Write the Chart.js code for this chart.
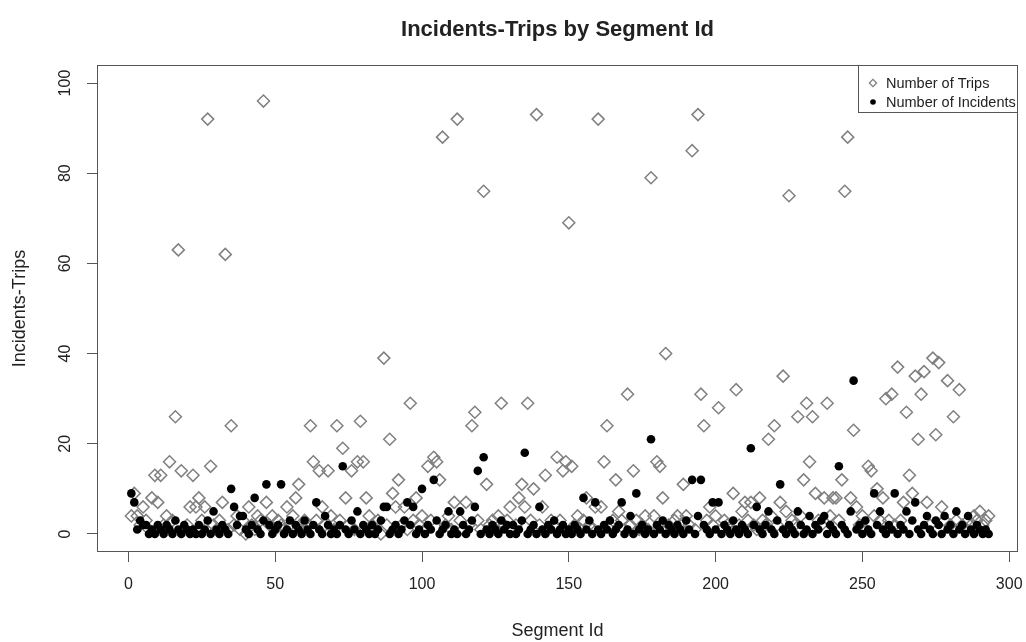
<!DOCTYPE html>
<html>
<head>
<meta charset="utf-8">
<script src="https://cdn.jsdelivr.net/npm/chart.js@4/dist/chart.umd.min.js"></script>
<style>
html,body{margin:0;padding:0;background:#fff;}
#wrap{width:1026px;height:642px;}
</style>
</head>
<body>
<div id="wrap"><canvas id="c" width="1026" height="642"></canvas></div>
<script>
// Number of trips per segment (segment 1..293)
const trips = [
  4, 9, 4, 2, 6, 3, 1, 8, 13, 7,
  13, 2, 4, 16, 3, 26, 63, 14, 1, 2,
  6, 13, 6, 8, 3, 6, 92, 15, 2, 1,
  3, 7, 62, 1, 24, 2, 4, 1, 3, 0,
  6, 2, 1, 4, 3, 96, 7, 2, 4, 1,
  3, 2, 1, 6, 2, 4, 8, 11, 1, 3,
  2, 24, 16, 3, 14, 6, 2, 14, 4, 1,
  24, 3, 19, 8, 2, 14, 1, 16, 25, 16,
  8, 4, 2, 1, 3, 0, 39, 2, 21, 9,
  6, 12, 2, 6, 1, 29, 3, 8, 2, 4,
  1, 15, 3, 17, 16, 12, 88, 2, 4, 1,
  7, 92, 3, 1, 7, 2, 24, 27, 3, 1,
  76, 11, 2, 3, 1, 4, 29, 2, 3, 6,
  1, 2, 8, 11, 6, 29, 3, 10, 93, 2,
  6, 13, 1, 3, 2, 17, 3, 14, 16, 69,
  15, 2, 4, 1, 3, 8, 2, 1, 6, 92,
  6, 16, 24, 2, 3, 12, 5, 3, 1, 31,
  2, 14, 3, 1, 2, 4, 1, 79, 4, 16,
  15, 8, 40, 2, 1, 3, 4, 2, 11, 4,
  2, 85, 1, 93, 31, 24, 3, 6, 2, 4,
  28, 1, 3, 2, 1, 9, 32, 2, 5, 7,
  3, 7, 2, 1, 8, 3, 2, 21, 4, 24,
  2, 7, 35, 5, 75, 3, 2, 26, 4, 12,
  29, 16, 26, 9, 3, 2, 8, 29, 4, 8,
  8, 3, 12, 76, 88, 8, 23, 6, 2, 4,
  1, 15, 14, 4, 10, 3, 8, 30, 3, 31,
  2, 37, 3, 7, 27, 13, 9, 35, 21, 31,
  36, 7, 2, 39, 22, 38, 6, 3, 34, 2,
  26, 3, 32, 2, 1, 3, 2, 4, 3, 5,
  2, 3, 4
];

// Number of incidents per segment (segment 1..293)
const incidents = [
  9, 7, 1, 3, 2, 2, 0, 1, 0, 2,
  1, 0, 2, 1, 0, 3, 1, 0, 2, 1,
  0, 1, 0, 2, 0, 1, 3, 0, 5, 1,
  0, 2, 1, 0, 10, 6, 2, 4, 4, 1,
  0, 2, 8, 1, 0, 3, 11, 2, 0, 1,
  2, 11, 0, 1, 3, 0, 2, 1, 0, 3,
  1, 0, 2, 7, 1, 0, 4, 2, 0, 1,
  0, 2, 15, 1, 0, 3, 1, 5, 0, 2,
  1, 0, 2, 0, 1, 3, 6, 6, 0, 1,
  2, 0, 1, 3, 7, 2, 6, 0, 1, 10,
  0, 2, 1, 12, 3, 0, 1, 2, 5, 0,
  1, 0, 5, 2, 0, 1, 3, 6, 14, 0,
  17, 1, 0, 2, 1, 0, 3, 1, 2, 0,
  2, 0, 1, 3, 18, 0, 1, 2, 0, 6,
  1, 0, 2, 1, 3, 0, 1, 2, 0, 1,
  0, 2, 1, 0, 8, 1, 3, 0, 7, 1,
  0, 2, 1, 3, 0, 1, 2, 7, 0, 1,
  4, 0, 9, 1, 2, 0, 1, 21, 0, 2,
  1, 3, 0, 2, 1, 0, 2, 1, 0, 3,
  1, 12, 0, 4, 12, 2, 1, 0, 7, 1,
  7, 0, 2, 1, 0, 3, 1, 0, 2, 1,
  0, 19, 2, 6, 1, 0, 2, 5, 1, 0,
  3, 11, 1, 0, 2, 1, 0, 5, 2, 0,
  1, 4, 0, 2, 1, 3, 4, 0, 2, 1,
  0, 15, 2, 1, 0, 5, 34, 1, 2, 0,
  3, 1, 0, 9, 2, 5, 1, 0, 2, 1,
  9, 0, 2, 1, 5, 0, 3, 7, 1, 0,
  2, 4, 1, 0, 3, 2, 0, 4, 1, 2,
  0, 5, 1, 2, 0, 4, 1, 0, 2, 1,
  0, 1, 0
];

// Segment ids (index + 1)
const segmentIds = trips.map((_, i) => i + 1);

const xTickValues = [0, 50, 100, 150, 200, 250, 300];
const yTickValues = [0, 20, 40, 60, 80, 100];
const seriesLabels = ['Number of Trips', 'Number of Incidents'];
const chartTitle = 'Incidents-Trips by Segment Id';
const xTitle = 'Segment Id';
const yTitle = 'Incidents-Trips';

const FONT = "'Liberation Sans', Arial, Helvetica, sans-serif";
const TXT = '#222222';
const AXC = '#555555';
const TRIP_COL = '#808080';

const toPoints = (vals) => vals.map((v, i) => ({ x: segmentIds[i], y: v }));

const boxPlugin = {
  id: 'rbox',
  afterDatasetsDraw(chart) {
    const { ctx, chartArea: a } = chart;
    ctx.save();
    ctx.strokeStyle = AXC;
    ctx.lineWidth = 1;
    ctx.strokeRect(Math.round(a.left) + 0.5, Math.round(a.top) + 0.5,
                   Math.round(a.right - a.left) - 1, Math.round(a.bottom - a.top) - 1);
    ctx.restore();
  },
  afterDraw(chart) {
    const { ctx, chartArea: a } = chart;
    const ds = chart.data.datasets;
    // legend box (top-right, R style)
    const w = 160, h = 48;
    const x0 = Math.round(a.right) - w, y0 = Math.round(a.top);
    ctx.save();
    ctx.fillStyle = '#ffffff';
    ctx.fillRect(x0, y0, w, h);
    ctx.strokeStyle = AXC;
    ctx.lineWidth = 1;
    ctx.strokeRect(x0 + 0.5, y0 + 0.5, w - 1, h - 1);
    ctx.font = "14.5px " + FONT;
    ctx.textBaseline = 'middle';
    ctx.textAlign = 'left';
    const order = [1, 0]; // trips first, incidents second
    order.forEach((di, k) => {
      const d = ds[di];
      const cy = y0 + 18 + k * 19;
      const cx = x0 + 15;
      ctx.beginPath();
      if (d.pointStyle === 'rectRot') {
        const r = 3.6;
        ctx.moveTo(cx - r, cy); ctx.lineTo(cx, cy - r); ctx.lineTo(cx + r, cy); ctx.lineTo(cx, cy + r);
        ctx.closePath();
        ctx.strokeStyle = d.borderColor; ctx.lineWidth = 1.3; ctx.stroke();
      } else {
        ctx.arc(cx, cy, 2.8, 0, Math.PI * 2);
        ctx.fillStyle = d.backgroundColor; ctx.fill();
      }
      ctx.fillStyle = TXT;
      ctx.fillText(d.label, x0 + 28, cy + 0.5);
    });
    ctx.restore();
  }
};

new Chart(document.getElementById('c'), {
  type: 'scatter',
  data: {
    datasets: [
      {
        label: seriesLabels[1],
        data: toPoints(incidents),
        pointStyle: 'circle',
        pointRadius: 4.3,
        backgroundColor: '#000000',
        borderColor: '#000000',
        borderWidth: 0
      },
      {
        label: seriesLabels[0],
        data: toPoints(trips),
        pointStyle: 'rectRot',
        pointRadius: 6,
        backgroundColor: 'rgba(0,0,0,0)',
        borderColor: TRIP_COL,
        borderWidth: 1.5
      }
    ]
  },
  options: {
    responsive: false,
    animation: false,
    devicePixelRatio: 1,
    events: [],
    layout: { padding: { left: 0, right: 8, top: 0, bottom: 0 } },
    plugins: {
      legend: { display: false },
      tooltip: { enabled: false },
      title: {
        display: true,
        text: chartTitle,
        fullSize: false,
        color: TXT,
        font: { family: FONT, size: 22, weight: 'bold', lineHeight: 1.2 },
        padding: { top: 17, bottom: 21.6 }
      }
    },
    scales: {
      x: {
        type: 'linear',
        min: -10.7,
        max: 303,
        afterBuildTicks: (s) => { s.ticks = xTickValues.map(v => ({ value: v })); },
        afterFit: (s) => { s.height = 90; s.paddingLeft = 0; s.paddingRight = 0; },
        border: { display: false },
        grid: { display: true, drawOnChartArea: false, drawTicks: true, tickLength: 10, color: AXC, lineWidth: 1 },
        ticks: { color: TXT, font: { family: FONT, size: 16 }, padding: 13, maxRotation: 0, autoSkip: false },
        title: { display: true, text: xTitle, color: TXT, font: { family: FONT, size: 18, lineHeight: 1.2 }, padding: { top: 0, bottom: 0 } }
      },
      y: {
        type: 'linear',
        min: -4,
        max: 104,
        afterBuildTicks: (s) => { s.ticks = yTickValues.map(v => ({ value: v })); },
        afterFit: (s) => { s.width = 97; s.paddingTop = 0; s.paddingBottom = 0; },
        border: { display: false },
        grid: { display: true, drawOnChartArea: false, drawTicks: true, tickLength: 10, color: AXC, lineWidth: 1 },
        ticks: { color: TXT, font: { family: FONT, size: 16 }, padding: 8, minRotation: 90, maxRotation: 90, crossAlign: 'center', autoSkip: false },
        title: { display: true, text: yTitle, color: TXT, font: { family: FONT, size: 18, lineHeight: 1.2 }, padding: { top: 9, bottom: 0 } }
      }
    }
  },
  plugins: [boxPlugin]
});
</script>
</body>
</html>
